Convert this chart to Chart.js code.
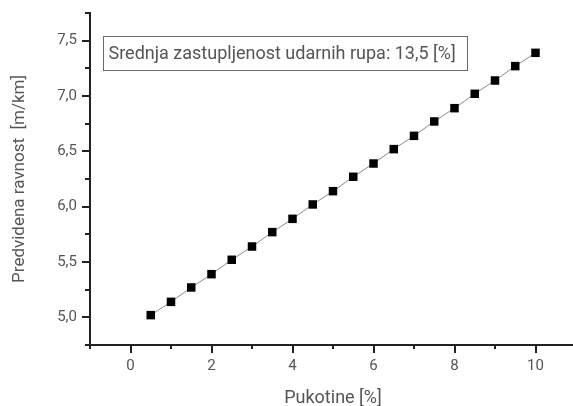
<!DOCTYPE html>
<html>
<head>
<meta charset="utf-8">
<script src="https://cdn.jsdelivr.net/npm/chart.js@4/dist/chart.umd.min.js"></script>
<style>
  html, body { margin: 0; padding: 0; background: #fff; overflow: hidden; width: 573px; height: 406px; }
  #wrap { position: absolute; left: 0; top: 0; width: 576px; height: 406px; }
</style>
</head>
<body>
<div id="wrap"><canvas id="c"></canvas></div>
<script>
// Data
const crackPercent = [0.5, 1, 1.5, 2, 2.5, 3, 3.5, 4, 4.5, 5, 5.5, 6, 6.5, 7, 7.5, 8, 8.5, 9, 9.5, 10];
const predictedIRI = [5.02, 5.14, 5.27, 5.39, 5.52, 5.64, 5.77, 5.89, 6.02, 6.14, 6.27, 6.39, 6.52, 6.64, 6.77, 6.89, 7.02, 7.14, 7.27, 7.39];
const xLabelValues = [0, 2, 4, 6, 8, 10];
const yLabelValues = [5.0, 5.5, 6.0, 6.5, 7.0, 7.5];
const xTitle = 'Pukotine [%]';
const yTitle = 'Predvidena ravnost  [m/km]';
const boxText = 'Srednja zastupljenost udarnih rupa: 13,5 [%]';

const FONT = 'Roboto';
const TXT = '#555';
const AXIS = '#222';

const tickPlugin = {
  id: 'ticksAndBox',
  afterDraw(chart) {
    const ctx = chart.ctx;
    const ca = chart.chartArea;
    const xs = chart.scales.x, ys = chart.scales.y;
    ctx.save();
    ctx.strokeStyle = AXIS;
    ctx.lineWidth = 2;
    ctx.beginPath();
    ys.ticks.forEach(t => {
      const y = Math.round(ys.getPixelForValue(t.value));
      const major = yLabelValues.some(v => Math.abs(v - t.value) < 1e-6);
      const len = major ? 8 : 5;
      ctx.moveTo(ca.left, y);
      ctx.lineTo(ca.left - len, y);
    });
    xs.ticks.forEach(t => {
      const x = Math.round(xs.getPixelForValue(t.value));
      const major = xLabelValues.some(v => Math.abs(v - t.value) < 1e-6);
      const len = major ? 8 : 4;
      ctx.moveTo(x, ca.bottom);
      ctx.lineTo(x, ca.bottom + len);
    });
    ctx.stroke();

    // annotation box
    const bx = ca.left + 13.5, by = ca.top + 23.5, bw = 364, bh = 34;
    ctx.lineWidth = 1;
    ctx.strokeStyle = '#6a6a6a';
    ctx.strokeRect(bx, by, bw, bh);
    ctx.fillStyle = TXT;
    ctx.font = '18px ' + FONT;
    ctx.textBaseline = 'middle';
    ctx.textAlign = 'left';
    ctx.fillText(boxText, bx + 5, by + bh / 2 + 1);
    ctx.restore();
  }
};

new Chart(document.getElementById('c'), {
  type: 'line',
  data: {
    datasets: [{
      data: crackPercent.map((x, i) => ({ x: x, y: predictedIRI[i] })),
      borderColor: '#8a8a8a',
      borderWidth: 1,
      pointStyle: 'rect',
      pointRadius: 6,
      pointBackgroundColor: '#000',
      pointBorderColor: '#000',
      pointBorderWidth: 0,
      tension: 0
    }]
  },
  options: {
    responsive: true,
    maintainAspectRatio: false,
    animation: false,
    events: [],
    layout: { autoPadding: false, padding: { top: 13, left: 0, right: 0, bottom: 0 } },
    plugins: { legend: { display: false }, tooltip: { enabled: false } },
    scales: {
      x: {
        type: 'linear',
        min: -1, max: 11,
        afterFit(s) { s.height = 61; s.paddingLeft = 0; s.paddingRight = 0; },
        border: { display: true, color: AXIS, width: 2 },
        grid: { display: true, drawOnChartArea: false, drawTicks: false },
        ticks: {
          stepSize: 1, autoSkip: false, maxRotation: 0, padding: 12,
          color: TXT, font: { family: FONT, size: 15 },
          callback: v => xLabelValues.some(a => Math.abs(a - v) < 1e-6) ? String(v) : ''
        },
        title: { display: true, text: xTitle, color: TXT, font: { family: FONT, size: 18 }, padding: { top: 0, bottom: -3 } }
      },
      y: {
        type: 'linear',
        min: 4.75, max: 7.75,
        afterFit(s) { s.width = 90; s.paddingTop = 0; s.paddingBottom = 0; },
        border: { display: true, color: AXIS, width: 2 },
        grid: { display: true, drawOnChartArea: false, drawTicks: false },
        ticks: {
          stepSize: 0.25, autoSkip: false, padding: 13,
          color: TXT, font: { family: FONT, size: 15 },
          callback: v => yLabelValues.some(a => Math.abs(a - v) < 1e-6) ? v.toFixed(1).replace('.', ',') : ''
        },
        title: { display: true, text: yTitle, color: TXT, font: { family: FONT, size: 17 }, padding: { top: 10, bottom: 0 } }
      }
    }
  },
  plugins: [tickPlugin]
});
</script>
</body>
</html>
